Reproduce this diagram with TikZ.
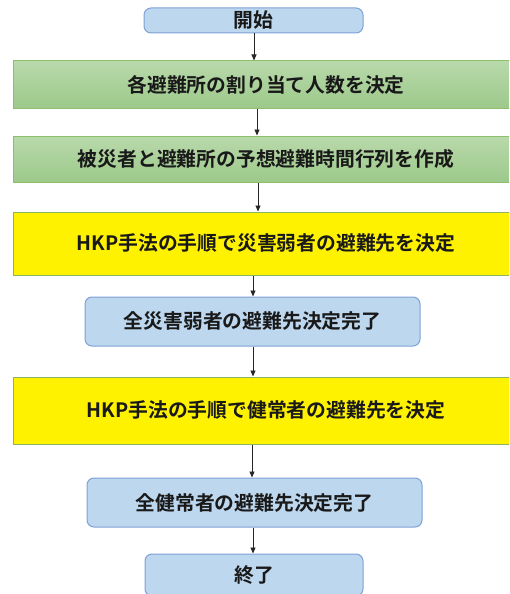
\documentclass[tikz,border=0pt]{standalone}
\usepackage{fontspec}
\setmainfont{Noto Sans CJK JP}[BoldFont={Noto Sans CJK JP Bold}]
\usetikzlibrary{arrows.meta}
\definecolor{bfill}{HTML}{BDD7EE}
\definecolor{bline}{HTML}{7EA1D6}
\definecolor{gtop}{HTML}{B9D9AB}
\definecolor{gbot}{HTML}{9CC98A}
\definecolor{gline}{HTML}{8CBF6E}
\definecolor{yline}{HTML}{8DB360}
\tikzset{
  base/.style={inner sep=0pt, font=\fontsize{19.8}{21}\selectfont\bfseries, text=black!90, line width=1pt},
  bluebox/.style={base, draw=bline, fill=bfill, rounded corners=7pt},
  greenbox/.style={base, draw=gline, top color=gtop, bottom color=gbot, minimum width=506pt},
  yellowbox/.style={base, draw=yline, fill=yellow, minimum width=506pt},
  arr/.style={-{Triangle[length=6pt,width=5pt]}, line width=0.9pt, draw=black!85}
}
\begin{document}
\begin{tikzpicture}[x=1pt,y=-1pt]
\useasboundingbox (0,0) rectangle (509,594);
\clip (0,0) rectangle (509,594);
\node[bluebox, minimum width=219pt, minimum height=25pt] (start) at (253.5,20.5) {開始};
\node[greenbox, minimum height=47pt] (g1) at (266,84.5) {各避難所の割り当て人数を決定};
\node[greenbox, minimum height=46pt] (g2) at (266,159) {被災者と避難所の予想避難時間行列を作成};
\node[yellowbox, minimum height=63pt] (y1) at (266,243.5) {HKP手法の手順で災害弱者の避難先を決定};
\node[bluebox, minimum width=335pt, minimum height=49pt] (b2) at (252.5,321.5) {全災害弱者の避難先決定完了};
\node[yellowbox, minimum height=67pt] (y2) at (266,410.5) {HKP手法の手順で健常者の避難先を決定};
\node[bluebox, minimum width=335pt, minimum height=49pt] (b3) at (254.5,502.5) {全健常者の避難先決定完了};
\node[bluebox, minimum width=218pt, minimum height=42pt] (end) at (254,575) {終了};
\draw[arr] (start.south -| 254,0) -- (g1.north -| 254,0);
\draw[arr] (g1.south -| 257,0) -- (g2.north -| 257,0);
\draw[arr] (g2.south -| 258,0) -- (y1.north -| 258,0);
\draw[arr] (y1.south -| 253,0) -- (b2.north -| 253,0);
\draw[arr] (b2.south -| 253,0) -- (y2.north -| 253,0);
\draw[arr] (y2.south -| 252,0) -- (b3.north -| 252,0);
\draw[arr] (b3.south -| 253,0) -- (end.north -| 253,0);
\end{tikzpicture}
\end{document}
